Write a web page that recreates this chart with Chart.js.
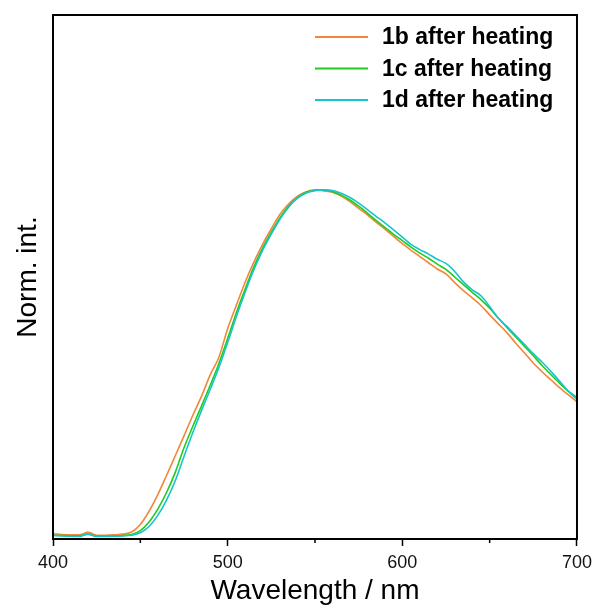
<!DOCTYPE html>
<html>
<head>
<meta charset="utf-8">
<script src="https://cdn.jsdelivr.net/npm/chart.js@4"></script>
<style>
  html, body { margin: 0; padding: 0; background: #ffffff; }
  #box { width: 598px; height: 610px; }
</style>
</head>
<body>
<div id="box"><canvas id="plChart" width="598" height="610"></canvas></div>
<script>
/* wavelength grid, nm */
const wavelengths = [
  400, 405, 410, 415, 420, 425, 430, 435, 440, 445,
  450, 455, 460, 465, 470, 475, 480, 485, 490, 495,
  500, 505, 510, 515, 520, 525, 530, 535, 540, 545,
  550, 555, 560, 565, 570, 575, 580, 585, 590, 595,
  600, 605, 610, 615, 620, 625, 630, 635, 640, 645,
  650, 655, 660, 665, 670, 675, 680, 685, 690, 695,
  700
];

const seriesLabels = ["1b after heating", "1c after heating", "1d after heating"];

const int1b = [
  0.009, 0.007, 0.006, 0.006, 0.013, 0.005, 0.005, 0.006, 0.008, 0.014,
  0.036, 0.074, 0.122, 0.177, 0.234, 0.291, 0.350, 0.405, 0.467, 0.518,
  0.600, 0.668, 0.734, 0.792, 0.843, 0.888, 0.930, 0.960, 0.982, 0.995,
  1.000, 0.997, 0.993, 0.982, 0.966, 0.947, 0.928, 0.907, 0.887, 0.866,
  0.845, 0.826, 0.808, 0.790, 0.772, 0.758, 0.733, 0.710, 0.689, 0.667,
  0.640, 0.614, 0.588, 0.558, 0.530, 0.501, 0.476, 0.453, 0.430, 0.410,
  0.389
];

const int1c = [
  0.005, 0.004, 0.003, 0.003, 0.008, 0.002, 0.002, 0.003, 0.004, 0.007,
  0.018, 0.043, 0.080, 0.128, 0.186, 0.257, 0.318, 0.377, 0.437, 0.500,
  0.572, 0.646, 0.714, 0.778, 0.832, 0.878, 0.920, 0.954, 0.978, 0.993,
  0.999, 1.000, 0.995, 0.985, 0.971, 0.953, 0.933, 0.912, 0.892, 0.872,
  0.854, 0.835, 0.818, 0.803, 0.786, 0.771, 0.749, 0.727, 0.705, 0.684,
  0.659, 0.631, 0.603, 0.576, 0.549, 0.522, 0.494, 0.468, 0.443, 0.420,
  0.402
];

const int1d = [
  0.004, 0.003, 0.002, 0.001, 0.008, 0.001, 0.001, 0.002, 0.003, 0.005,
  0.012, 0.030, 0.062, 0.106, 0.162, 0.232, 0.300, 0.364, 0.425, 0.488,
  0.560, 0.635, 0.705, 0.770, 0.826, 0.873, 0.916, 0.951, 0.976, 0.991,
  0.998, 1.000, 0.998, 0.990, 0.978, 0.962, 0.943, 0.924, 0.905, 0.885,
  0.864, 0.843, 0.828, 0.815, 0.800, 0.788, 0.765, 0.735, 0.712, 0.695,
  0.664, 0.630, 0.606, 0.580, 0.554, 0.528, 0.504, 0.477, 0.449, 0.420,
  0.396
];

const seriesColors = ["#F3863B", "#1FCC1F", "#17C4CC"];
const minorTicks = [450, 550, 650];

const toPoints = vals => wavelengths.map((w, i) => ({ x: w, y: vals[i] }));

/* frame round the plot, minor ticks and the inside legend */
const framePlugin = {
  id: "frame",
  afterDatasetsDraw(chart) {
    const { ctx, chartArea: a, scales } = chart;
    ctx.save();
    ctx.strokeStyle = "#000000";
    ctx.lineWidth = 2;
    ctx.strokeRect(a.left, a.top, a.right - a.left, a.bottom - a.top);

    ctx.lineWidth = 1.5;
    minorTicks.forEach(v => {
      const px = scales.x.getPixelForValue(v);
      ctx.beginPath();
      ctx.moveTo(px, a.bottom);
      ctx.lineTo(px, a.bottom + 4);
      ctx.stroke();
    });

    ctx.font = "bold 23px Arial, 'Liberation Sans', sans-serif";
    ctx.textBaseline = "middle";
    ctx.textAlign = "left";
    chart.data.datasets.forEach((ds, i) => {
      const y = 37 + i * 31.5;
      ctx.strokeStyle = ds.borderColor;
      ctx.lineWidth = 2;
      ctx.beginPath();
      ctx.moveTo(315, y);
      ctx.lineTo(368, y);
      ctx.stroke();
      ctx.fillStyle = "#000000";
      ctx.fillText(ds.label, 382, y + 1);
    });
    ctx.restore();
  }
};

document.addEventListener("DOMContentLoaded", () => {
  Chart.defaults.font.family = "Arial, 'Liberation Sans', sans-serif";
  Chart.defaults.color = "#000000";

  new Chart(document.getElementById("plChart"), {
    type: "line",
    data: {
      datasets: [
        { label: seriesLabels[0], data: toPoints(int1b), borderColor: seriesColors[0], order: 3 },
        { label: seriesLabels[1], data: toPoints(int1c), borderColor: seriesColors[1], order: 2 },
        { label: seriesLabels[2], data: toPoints(int1d), borderColor: seriesColors[2], order: 1 }
      ]
    },
    options: {
      responsive: false,
      animation: false,
      layout: { padding: { top: 15, right: 21, bottom: 0, left: 0 } },
      elements: {
        line: { borderWidth: 1.6, cubicInterpolationMode: "monotone", fill: false },
        point: { radius: 0 }
      },
      plugins: {
        legend: { display: false },
        tooltip: { enabled: false }
      },
      scales: {
        x: {
          type: "linear",
          min: 400,
          max: 700,
          border: { display: false },
          grid: {
            drawOnChartArea: false,
            drawTicks: true,
            tickLength: 7,
            tickColor: "#000000",
            tickWidth: 1.5
          },
          ticks: {
            stepSize: 100,
            padding: 6,
            maxRotation: 0,
            font: { size: 18 },
            color: "#111111"
          },
          title: {
            display: true,
            text: "Wavelength / nm",
            font: { size: 28 },
            padding: { top: 0, bottom: 2 }
          },
          afterFit: scale => { scale.height = 71; }
        },
        y: {
          min: -0.006,
          max: 1.504,
          border: { display: false },
          grid: { display: false },
          ticks: { display: false },
          title: {
            display: true,
            text: "Norm. int.",
            font: { size: 28 },
            padding: { top: 11, bottom: 0 }
          },
          afterFit: scale => { scale.width = 53; }
        }
      }
    },
    plugins: [framePlugin]
  });
});
</script>
</body>
</html>
